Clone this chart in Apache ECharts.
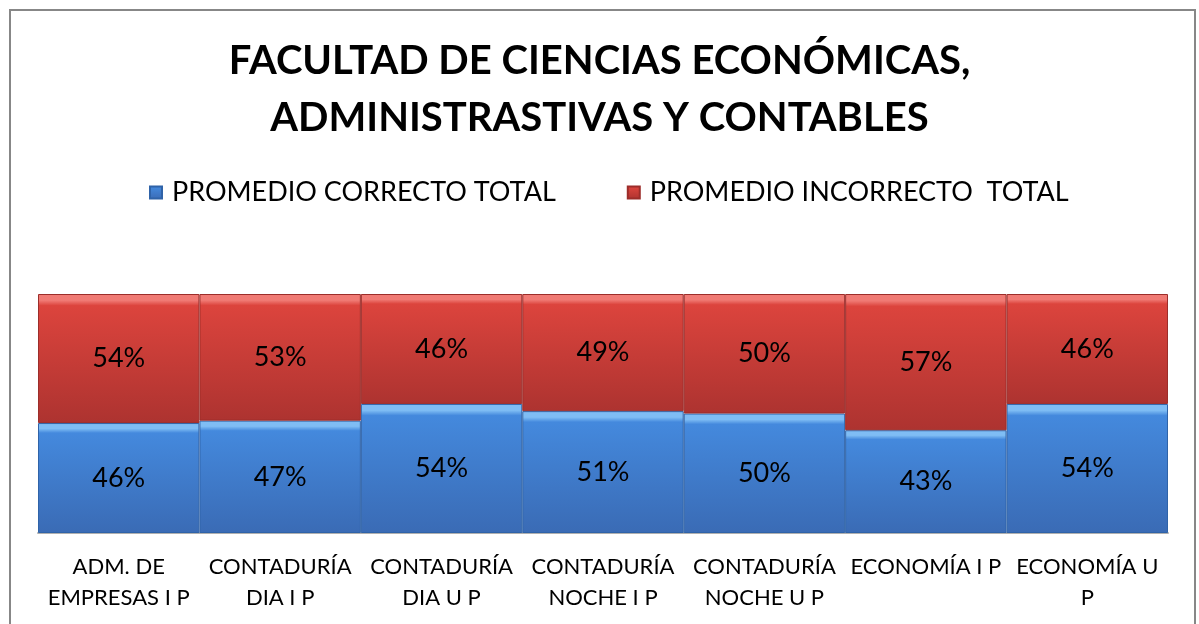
<!DOCTYPE html>
<html>
<head>
<meta charset="utf-8">
<script src="https://cdn.jsdelivr.net/npm/echarts@6/dist/echarts.min.js"></script>
<style>
  html, body { margin: 0; padding: 0; background: #fff; }
  #chart { width: 1199px; height: 624px; }
</style>
</head>
<body>
<div id="chart"></div>
<script>
const categories = [
  'ADM. DE\nEMPRESAS I P',
  'CONTADURÍA\nDIA I P',
  'CONTADURÍA\nDIA U P',
  'CONTADURÍA\nNOCHE I P',
  'CONTADURÍA\nNOCHE U P',
  'ECONOMÍA I P',
  'ECONOMÍA U\nP'
]
const correcto = [46, 47, 54, 51, 50, 43, 54]
const incorrecto = [54, 53, 46, 49, 50, 57, 46]

const fontFamily = 'Lato, "Open Sans", sans-serif'

// gradiente vertical con franja clara arriba (efecto bisel)
const bevel = (light, top, bottom) => new echarts.graphic.LinearGradient(0, 0, 0, 1, [
  { offset: 0, color: light },
  { offset: 0.05, color: light },
  { offset: 0.09, color: top },
  { offset: 1, color: bottom }
])

const chart = echarts.init(document.getElementById('chart'))

const option = {
  backgroundColor: '#fff',
  animation: false,
  graphic: [{
    type: 'rect',
    shape: { x: 10, y: 10, width: 1185, height: 640 },
    style: { fill: 'none', stroke: '#878787', lineWidth: 2 }
  }],
  title: {
    text: 'FACULTAD DE CIENCIAS ECONÓMICAS,\nADMINISTRASTIVAS Y CONTABLES',
    left: 'center',
    top: 28,
    textStyle: {
      fontFamily,
      fontWeight: 'bold',
      fontSize: 40,
      lineHeight: 57,
      color: '#000'
    }
  },
  legend: {
    top: 174,
    left: 144,
    itemWidth: 12,
    itemHeight: 12,
    itemGap: 71,
    icon: 'rect',
    textStyle: {
      fontFamily,
      fontSize: 27,
      color: '#000',
      padding: [0, 0, 0, 5]
    },
    data: ['PROMEDIO CORRECTO TOTAL', 'PROMEDIO INCORRECTO  TOTAL']
  },
  grid: {
    left: 38,
    right: 31,
    top: 294,
    bottom: 91
  },
  xAxis: {
    type: 'category',
    data: categories,
    axisTick: { show: false },
    axisLine: { lineStyle: { color: '#b0b0b0', width: 2 } },
    axisLabel: {
      margin: 18,
      interval: 0,
      fontFamily,
      fontSize: 22,
      lineHeight: 31,
      color: '#000'
    }
  },
  yAxis: {
    type: 'value',
    min: 0,
    max: 100,
    show: false,
    splitLine: { show: false }
  },
  series: [
    {
      name: 'PROMEDIO CORRECTO TOTAL',
      type: 'bar',
      stack: 'total',
      barCategoryGap: '0%',
      data: correcto,
      itemStyle: {
        color: bevel('#7fbdf4', '#4489dd', '#3a6bb5'),
        borderColor: '#2f63a8',
        borderWidth: 1
      },
      label: {
        show: true,
        position: 'inside',
        formatter: '{c}%',
        fontFamily,
        fontSize: 27,
        color: '#000'
      }
    },
    {
      name: 'PROMEDIO INCORRECTO  TOTAL',
      type: 'bar',
      stack: 'total',
      barCategoryGap: '0%',
      data: incorrecto,
      itemStyle: {
        color: bevel('#f07a74', '#dc443d', '#ad3330'),
        borderColor: '#9c2d2a',
        borderWidth: 1
      },
      label: {
        show: true,
        position: 'inside',
        formatter: '{c}%',
        fontFamily,
        fontSize: 27,
        color: '#000'
      }
    }
  ]
}

chart.setOption(option)
</script>
</body>
</html>
